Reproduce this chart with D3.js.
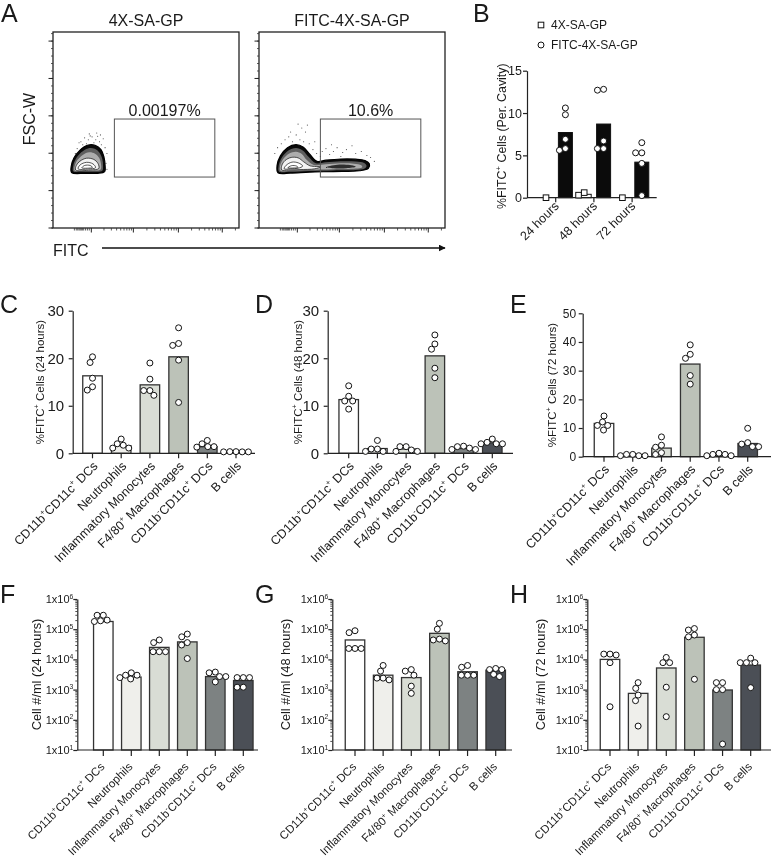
<!DOCTYPE html>
<html><head><meta charset="utf-8">
<script src="https://cdn.jsdelivr.net/npm/d3@7"></script>
<style>
body{margin:0;background:#fff}
svg{display:block;will-change:transform}
text{font-family:"Liberation Sans",Arial,Helvetica,sans-serif;fill:#1a1a1a}
</style>
</head><body>
<svg id="fig" width="771" height="860"></svg>
<script>
// ---------------- DATA ----------------
const flowTitles = ["4X-SA-GP", "FITC-4X-SA-GP"];
const gateLabels = ["0.00197%", "10.6%"];
const gateBox = [33, 87, 26, 55.6];            // FITC lo, FITC hi, FSC-W lo, FSC-W hi (% of scale)
const fscMax = 262144;
const fscMajor = [0, 50000, 100000, 150000, 200000, 250000];
const fscMinor = d3.range(0, 262144, 10000);
const fitcDecades = [20.6, 43.2, 67.4, 91.0];  // % of FITC scale
const fitcLinTicks = [11.5, 12.5, 13.3, 14, 14.6, 15.2, 15.8, 16.5, 17.5, 18.5, 19.5];

// contour levels (FITC %, FSC-W %)
const leftContours = [
  [[10,28.3],[9.8,31.5],[11.3,35.8],[14.4,39.6],[18.5,42.2],[22.6,42.2],[25.8,40],[27.4,36.2],[28,32],[27.8,28.8],[24,27.9],[17,27.9]],
  [[10.9,29],[10.9,31.8],[12.4,35.4],[15.2,38.6],[18.8,40.6],[22.4,40.4],[25,38.4],[26.5,35.2],[26.9,31.8],[26.5,29.2],[22,28.7],[16,28.7]],
  [[11.6,29.3],[11.8,32],[13.3,34.9],[16,37.3],[19.5,38.6],[22.6,37.9],[24.8,35.8],[25.8,32.6],[25.6,29.8],[21,29.2],[15,29.2]],
  [[12.2,29.6],[12.6,32],[14.5,34.1],[18,35.6],[21.9,35],[24.2,32.9],[24.6,30.4],[20,29.6]],
  [[13.5,30.2],[14.6,32.2],[18,33.5],[21.5,32.7],[22.9,30.8],[19,30.1]],
  [[15.5,30.7],[17,31.9],[20,31.9],[21.2,30.9],[18.5,30.5]]
];
const rightContours = [
  [[10.2,28.2],[9.7,31.8],[11.5,36.8],[15.3,41],[19.9,42.5],[23.9,41.2],[27.4,37.5],[31.2,34],[36,34.6],[44,35.2],[52,35.1],[57,34.4],[59.3,32.8],[58.8,30.4],[54,29.2],[40,28.8],[27,28.5],[17,28]],
  [[10.8,28.8],[10.6,31.8],[12.3,36],[15.8,39.6],[19.9,40.8],[23.5,39.6],[26.6,36.3],[30.6,33],[36,33.5],[44,34],[52,33.9],[56.5,33.2],[57.8,31.8],[56.8,30.3],[52,29.6],[40,29.4],[27,29.1],[17,28.7]],
  [[11.5,29.2],[11.4,31.9],[13,35.2],[16.3,38],[19.9,38.9],[23,37.8],[25.6,34.8],[29.5,32.2],[36,32.5],[44,33],[51,32.8],[55,32],[55.5,31],[52,30.3],[40,30],[27,29.7],[17,29.3]],
  [[12.2,29.6],[12.3,32],[14,34.4],[17.3,36],[21,35.8],[24,33.8],[27.5,31.7],[33,31.2],[30,30.2],[22,29.8],[16,29.6]],
  [[13.5,30.2],[14.6,32],[17.7,33.6],[21.2,33.2],[23.5,31.6],[21,30.5],[17,30.2]],
  [[15.5,30.7],[17.5,31.8],[20.2,31.6],[21,30.9],[18,30.6]],
  [[36,31],[42,32.3],[49,32.1],[52,31.2],[47,30.5],[40,30.5]]
];
const leftDots = [[15,44],[17,46],[19,45],[21,46.5],[23,45],[25,44],[26,42.5],[18,43],[22,43.5],[27,45.5],[20,47],[24,46.8],[16,42.5],[28,41],[13,40.5],[14,43.5],[25.5,47.5],[29,38],[12,38],[28.5,33],[29,30],[19.5,48],[23.5,48.5]];
const rightDots = [[14,45],[16,46.5],[12,43],[18,44],[20,47.5],[22,45],[24,44],[25,49],[23,51],[26,52.5],[21,53],[10,41],[27,43],[29,40],[31,38],[34,39],[36,40.5],[38,37.5],[40,39],[42,41],[45,38.5],[47,40],[50,42],[52,38],[55,39],[58,37],[60,36],[62,34],[44,36.5],[33,36.5],[39,42.5],[30,44],[8.5,38],[17,49]];

const cats = ["CD11b^+CD11c^+ DCs", "Neutrophils", "Inflammatory Monocytes", "F4/80^+ Macrophages", "CD11b^-CD11c^+ DCs", "B cells"];
const barColors = ["#ffffff", "#efefeb", "#d9ddd5", "#bcc2b8", "#7d8282", "#4b4f56"];

// Panel B
const times = ["24 hours", "48 hours", "72 hours"];
const groupsB = ["4X-SA-GP", "FITC-4X-SA-GP"];
const ctrlBars = [0, 0.4, 0];
const fitcBars = [7.7, 8.7, 4.2];
const ctrlPts = [[0], [0.6, 0.3], [0]];
const fitcPts = [[10.6, 9.8, 6.9, 5.6, 5.8], [12.8, 12.7, 6.7, 5.8, 5.8], [6.5, 5.3, 5.3, 4.05, 0.25]];
const ticksB = [0, 5, 10, 15];

// Panels C-E: % FITC+ cells
const pctBars24 = [16.3, 1.6, 14.4, 20.3, 1.4, 0.35];
const pctPts24 = [[20.3,19.1,15.8,13.3,14.0],[3.0,2.0,1.1,1.1,1.7],[19.0,15.6,12.2,13.2,13.2],[26.4,22.7,23.1,19.6,10.7],[2.7,1.3,2.0,1.4,1.4],[0.3,0.35,0.3,0.35,0.3]];
const pctBars48 = [11.3, 1.0, 0.9, 20.5, 1.0, 2.2];
const pctPts48 = [[14.2,12.0,11.0,11.0,9.3],[2.7,0.4,0.4,0.9,0.9],[1.4,1.4,0.4,0.4,0.7],[24.9,21.9,23.0,17.9,15.9],[1.4,1.5,1.1,0.8,0.8],[3.0,2.0,2.3,2.0,2.0]];
const pctBars72 = [11.6, 0.5, 3.0, 32.3, 0.6, 4.6];
const pctPts72 = [[14.2,12.1,9.3,10.9,10.9],[0.35,0.8,0.8,0.35,0.35],[6.9,3.3,4.0,1.4,0.8],[39.0,34.3,35.7,28.3,25.3],[0.8,1.2,0.8,0.35,0.35],[9.9,4.9,3.5,3.5,4.4]];
const ticks30 = [0, 10, 20, 30];
const ticks50 = [0, 10, 20, 30, 40, 50];

// Panels F-H: cell numbers
const cntBars24 = [1.8e5, 2.6e3, 2.5e4, 3.8e4, 2.7e3, 2.0e3];
const cntPts24 = [[2.9e5,2.9e5,2.0e5,1.9e5,1.8e5],[3.6e3,3.0e3,3.0e3,2.5e3,2.25e3],[4.4e4,3.6e4,1.8e4,1.8e4,1.8e4],[6.9e4,5.6e4,3.6e4,3.0e4,1.07e4],[3.8e3,3.6e3,1.8e3,2.7e3,2.7e3],[2.5e3,2.5e3,2.5e3,1.2e3,1.2e3]];
const cntBars48 = [4.4e4, 3.0e3, 2.5e3, 7.3e4, 3.9e3, 4.4e3];
const cntPts48 = [[8.9e4,7.7e4,2.3e4,2.3e4,2.3e4],[6.3e3,4.1e3,2.1e3,2.4e3,2.4e3],[4.1e3,4.6e3,3.0e3,1.3e3,7.5e2],[1.56e5,1.0e5,4.1e4,4.7e4,4.4e4],[6.3e3,5.5e3,3.0e3,3.0e3,3.0e3],[4.6e3,5.0e3,4.6e3,2.7e3,3.2e3]];
const cntBars72 = [1.0e4, 7.5e2, 5.2e3, 5.4e4, 9.7e2, 6.5e3];
const cntPts72 = [[1.5e4,1.5e4,1.4e4,7.8e3,2.7e2],[1.7e3,1.1e3,6.6e2,4.3e2,62],[1.16e4,7.8e3,7.8e3,1.2e3,1.27e2],[9.4e4,1.05e5,6.4e4,5.6e4,2.2e3],[1.7e3,1.7e3,1.0e3,1.0e3,15.8],[1.1e4,7.8e3,7.8e3,7.8e3,1.16e3]];
const logTicks = [1e1, 1e2, 1e3, 1e4, 1e5, 1e6];

// ---------------- HELPERS ----------------
const svg = d3.select("#fig");
const AX = "#222";
const R = 3;

function rich(textSel, str, size) {
  const parts = str.split(/\^(.)/);
  let shifted = false;
  parts.forEach((p, k) => {
    if (k % 2 === 1) {
      textSel.append("tspan").attr("font-size", size * 0.62).attr("dy", -size * 0.4).text(p);
      shifted = true;
    } else if (p.length) {
      const t = textSel.append("tspan").text(p);
      if (shifted) { t.attr("dy", size * 0.4); shifted = false; }
    }
  });
}

function swarm(vals, yScale, r) {
  const pts = vals.map((v, i) => ({ v, i, y: yScale(v) })).sort((a, b) => a.y - b.y);
  const placed = [];
  const s = 2 * r + 0.2;
  for (const p of pts) {
    const iv = [];
    for (const q of placed) {
      const dy = Math.abs(q.y - p.y);
      if (dy < s) { const dx = Math.sqrt(s * s - dy * dy); iv.push([q.x - dx, q.x + dx]); }
    }
    const cands = [0, ...iv.flat()].sort((a, b) => Math.abs(a) - Math.abs(b) || a - b);
    p.x = cands.find(c => iv.every(([a, b]) => c <= a + 1e-6 || c >= b - 1e-6));
    placed.push(p);
  }
  return placed;
}

function letter(t, x, y) {
  svg.append("text").attr("x", x).attr("y", y).attr("font-size", 25).text(t);
}

function yLabel(str, x, yc, size) {
  const t = svg.append("text").attr("transform", `translate(${x},${yc}) rotate(-90)`)
    .attr("text-anchor", "middle").attr("dy", "0.35em").attr("font-size", size);
  rich(t, str, size);
}

// ---------------- PANEL A (flow) ----------------
letter("A", 1, 22);
const flowBoxes = [[53, 32, 186, 196], [259, 32, 186, 196]];
const contourSets = [leftContours, rightContours];
const dotSets = [leftDots, rightDots];
const levelFill = ["#0a0a0a", "#5e5e5e", "#adadad", "#f3f3f3", "#ffffff", "#ffffff", "#2e2e2e"];
const levelStroke = ["#000", "none", "none", "#111", "#111", "#111", "none"];
const levelSW = [1.2, 0, 0, 0.7, 0.7, 0.7, 0];

flowBoxes.forEach(([bx, by, bw, bh], k) => {
  const g = svg.append("g");
  const fx = d3.scaleLinear().domain([0, 100]).range([bx, bx + bw]);
  const fy = d3.scaleLinear().domain([0, 100]).range([by + bh, by]);
  svg.append("text").attr("x", bx + bw / 2).attr("y", 26).attr("text-anchor", "middle")
    .attr("font-size", 16).text(flowTitles[k]);
  g.selectAll("circle.dot").data(dotSets[k]).join("circle")
    .attr("cx", d => fx(d[0])).attr("cy", d => fy(d[1])).attr("r", 0.55).attr("fill", "#444");
  const line = d3.line().x(d => fx(d[0])).y(d => fy(d[1])).curve(d3.curveCatmullRomClosed.alpha(0.5));
  g.selectAll("path.lvl").data(contourSets[k]).join("path")
    .attr("d", line)
    .attr("fill", (d, i) => levelFill[i]).attr("stroke", (d, i) => levelStroke[i])
    .attr("stroke-width", (d, i) => levelSW[i]);
  g.append("rect").attr("x", fx(gateBox[0])).attr("y", fy(gateBox[3]))
    .attr("width", fx(gateBox[1]) - fx(gateBox[0])).attr("height", fy(gateBox[2]) - fy(gateBox[3]))
    .attr("fill", "none").attr("stroke", "#555").attr("stroke-width", 1);
  svg.append("text").attr("x", fx((gateBox[0] + gateBox[1]) / 2)).attr("y", fy(gateBox[3]) - 3)
    .attr("text-anchor", "middle").attr("font-size", 16).text(gateLabels[k]);
  g.append("rect").attr("x", bx).attr("y", by).attr("width", bw).attr("height", bh)
    .attr("fill", "none").attr("stroke", "#222").attr("stroke-width", 1.3);
  g.selectAll("line.ymin").data(fscMinor).join("line")
    .attr("x1", bx - 2).attr("x2", bx).attr("y1", d => fy(d / fscMax * 100)).attr("y2", d => fy(d / fscMax * 100))
    .attr("stroke", "#333").attr("stroke-width", 0.8);
  g.selectAll("line.ymaj").data(fscMajor).join("line")
    .attr("x1", bx - 4.5).attr("x2", bx).attr("y1", d => fy(d / fscMax * 100)).attr("y2", d => fy(d / fscMax * 100))
    .attr("stroke", "#222").attr("stroke-width", 1);
  const minorX = [];
  fitcDecades.forEach((d0, i) => {
    const step = i < fitcDecades.length - 1 ? fitcDecades[i + 1] - d0 : 23.5;
    for (let m = 2; m <= 9; m++) { const v = d0 + Math.log10(m) * step; if (v < 99.5) minorX.push(v); }
  });
  g.selectAll("line.xmin").data(minorX.concat(fitcLinTicks)).join("line")
    .attr("x1", d => fx(d)).attr("x2", d => fx(d)).attr("y1", by + bh).attr("y2", by + bh + 2.5)
    .attr("stroke", "#333").attr("stroke-width", 0.8);
  g.selectAll("line.xmaj").data(fitcDecades).join("line")
    .attr("x1", d => fx(d)).attr("x2", d => fx(d)).attr("y1", by + bh).attr("y2", by + bh + 4.5)
    .attr("stroke", "#222").attr("stroke-width", 1);
});
yLabel("FSC-W", 29, 119, 16);
svg.append("text").attr("x", 53).attr("y", 255.5).attr("font-size", 16).text("FITC");
svg.append("defs").append("marker").attr("id", "arr").attr("viewBox", "0 0 10 10")
  .attr("refX", 9).attr("refY", 5).attr("markerWidth", 7).attr("markerHeight", 7)
  .attr("orient", "auto").attr("markerUnits", "userSpaceOnUse")
  .append("path").attr("d", "M0,0 L10,5 L0,10 z").attr("fill", "#111");
svg.append("line").attr("x1", 102).attr("x2", 445).attr("y1", 248).attr("y2", 248)
  .attr("stroke", "#111").attr("stroke-width", 1.5).attr("marker-end", "url(#arr)");

// ---------------- PANEL B ----------------
letter("B", 473, 22);
(function () {
  const o = { x0: 527, xEnd: 656.7, yt: 70.7, yb: 197.7 };
  const g = svg.append("g");
  const xg = d3.scalePoint().domain(times).range([555.7, 632.1]);
  const xs = d3.scalePoint().domain(groupsB).range([-9.7, 9.7]);
  const y = d3.scaleLinear().domain([0, 15]).range([o.yb, o.yt]);
  const bw = 14;
  const barData = [];
  times.forEach((t, i) => {
    barData.push({ t, s: groupsB[0], v: ctrlBars[i], pts: ctrlPts[i] });
    barData.push({ t, s: groupsB[1], v: fitcBars[i], pts: fitcPts[i] });
  });
  g.selectAll("rect.bar").data(barData).join("rect")
    .attr("x", d => xg(d.t) + xs(d.s) - bw / 2).attr("width", bw)
    .attr("y", d => y(d.v)).attr("height", d => y(0) - y(d.v))
    .attr("fill", d => d.s === groupsB[0] ? "#fff" : "#0b0b0b")
    .attr("stroke", "#111").attr("stroke-width", 1);
  const ya = g.append("g").attr("transform", `translate(${o.x0},0)`)
    .call(d3.axisLeft(y).tickValues(ticksB).tickSize(4).tickSizeOuter(0));
  ya.select(".domain").attr("stroke", AX).attr("stroke-width", 1.2);
  ya.selectAll(".tick line").attr("stroke", AX).attr("stroke-width", 1.2);
  ya.selectAll(".tick text").attr("font-size", 12.5).attr("font-family", null).attr("fill", "#1a1a1a").attr("x", -5);
  g.append("line").attr("x1", o.x0).attr("x2", o.xEnd).attr("y1", y(0)).attr("y2", y(0))
    .attr("stroke", AX).attr("stroke-width", 1.2);
  g.selectAll("line.xt").data(times).join("line")
    .attr("x1", d => xg(d)).attr("x2", d => xg(d)).attr("y1", y(0)).attr("y2", y(0) + 4.5)
    .attr("stroke", AX).attr("stroke-width", 1.2);
  g.selectAll("text.xl").data(times).join("text")
    .attr("transform", d => `translate(${xg(d) + 4},${y(0) + 9}) rotate(-45)`)
    .attr("text-anchor", "end").attr("font-size", 12.5).text(d => d);
  barData.forEach(d => {
    const cx = xg(d.t) + xs(d.s);
    const sw = swarm(d.pts, y, R);
    if (d.s === groupsB[0]) {
      g.selectAll(null).data(sw).join("rect")
        .attr("x", p => cx + p.x - 2.8).attr("y", p => p.y - 2.8).attr("width", 5.6).attr("height", 5.6)
        .attr("fill", "#fff").attr("stroke", "#111").attr("stroke-width", 1);
    } else {
      g.selectAll(null).data(sw).join("circle")
        .attr("cx", p => cx + p.x).attr("cy", p => p.y).attr("r", R)
        .attr("fill", "#fff").attr("stroke", "#111").attr("stroke-width", 1);
    }
  });
  yLabel("%FITC^+ Cells (Per. Cavity)", 502, (o.yt + o.yb) / 2 + 2, 12.4);
  const lg = svg.append("g");
  lg.append("rect").attr("x", 541 - 2.8).attr("y", 25 - 2.8).attr("width", 5.6).attr("height", 5.6)
    .attr("fill", "#fff").attr("stroke", "#111").attr("stroke-width", 1);
  lg.append("circle").attr("cx", 541).attr("cy", 45).attr("r", R)
    .attr("fill", "#fff").attr("stroke", "#111").attr("stroke-width", 1);
  lg.selectAll("text").data(groupsB).join("text").attr("x", 551).attr("y", (d, i) => 29.2 + i * 20)
    .attr("font-size", 12).text(d => d);
})();

// ---------------- BAR PANELS C-H ----------------
function barPanel(o) {
  const g = svg.append("g");
  const x = d3.scalePoint().domain(d3.range(cats.length)).range([o.c0, o.c1]);
  const y = o.log ? d3.scaleLog().domain([1e1, 1e6]).range([o.yb, o.yt])
                  : d3.scaleLinear().domain([0, o.max]).range([o.yb, o.yt]);
  const base = o.log ? 1e1 : 0;
  const bw = 19.5;
  g.selectAll("rect.bar").data(o.bars).join("rect")
    .attr("x", (d, i) => x(i) - bw / 2).attr("width", bw)
    .attr("y", d => y(d)).attr("height", d => y(base) - y(d))
    .attr("fill", (d, i) => barColors[i]).attr("stroke", "#333").attr("stroke-width", 1.3);
  if (o.log) {
    const minor = [];
    logTicks.slice(0, -1).forEach(t => { for (let m = 2; m <= 9; m++) minor.push(t * m); });
    const ym = g.append("g").attr("transform", `translate(${o.x0},0)`)
      .call(d3.axisLeft(y).tickValues(minor).tickSize(2).tickSizeOuter(0).tickFormat(""));
    ym.select(".domain").remove();
    ym.selectAll(".tick line").attr("stroke", AX).attr("stroke-width", 0.8);
  }
  const ya = g.append("g").attr("transform", `translate(${o.x0},0)`)
    .call(d3.axisLeft(y).tickValues(o.ticks).tickSize(4).tickSizeOuter(0).tickFormat(""));
  ya.select(".domain").attr("stroke", AX).attr("stroke-width", 1.2);
  ya.selectAll(".tick line").attr("stroke", AX).attr("stroke-width", 1.2);
  const tl = g.selectAll("text.tl").data(o.ticks).join("text")
    .attr("x", o.x0 - o.tickGap).attr("y", d => y(d)).attr("dy", "0.36em")
    .attr("text-anchor", "end").attr("font-size", o.tickFont);
  tl.each(function (d) {
    const s = o.log ? "1x10^" + Math.round(Math.log10(d)) : String(d);
    rich(d3.select(this), s, o.tickFont);
  });
  g.append("line").attr("x1", o.x0).attr("x2", o.xEnd).attr("y1", y(base)).attr("y2", y(base))
    .attr("stroke", AX).attr("stroke-width", 1.2);
  g.selectAll("line.xt").data(cats).join("line")
    .attr("x1", (d, i) => x(i)).attr("x2", (d, i) => x(i)).attr("y1", y(base)).attr("y2", y(base) + o.xtick)
    .attr("stroke", AX).attr("stroke-width", 1.2);
  const xl = g.selectAll("text.xl").data(cats).join("text")
    .attr("transform", (d, i) => `translate(${x(i) + o.cat[0]},${y(base) + o.cat[1]}) rotate(-45)`)
    .attr("text-anchor", "end").attr("font-size", o.catFont);
  xl.each(function (d) { rich(d3.select(this), d, o.catFont); });
  o.pts.forEach((vals, i) => {
    const sw = swarm(vals, y, R);
    g.selectAll(null).data(sw).join("circle")
      .attr("cx", p => x(i) + p.x).attr("cy", p => p.y).attr("r", R)
      .attr("fill", "#fff").attr("stroke", "#111").attr("stroke-width", 1);
  });
  yLabel(o.ylabel, o.labelX, (o.yt + o.yb) / 2, o.labelSize);
  letter(o.letter, o.lx, o.ly);
}

barPanel({ letter: "C", lx: 0, ly: 313, x0: 72.7, xEnd: 255, yt: 310.7, yb: 453.3, c0: 92.5, c1: 236,
  max: 30, ticks: ticks30, bars: pctBars24, pts: pctPts24, ylabel: "%FITC^+ Cells (24 hours)",
  labelX: 39.5, labelSize: 11.5, tickFont: 15, tickGap: 8.5, cat: [6, 13.5], catFont: 12.5, xtick: 5 });
barPanel({ letter: "D", lx: 255, ly: 313, x0: 327.7, xEnd: 513, yt: 310.7, yb: 453.3, c0: 348.7, c1: 492.3,
  max: 30, ticks: ticks30, bars: pctBars48, pts: pctPts48, ylabel: "%FITC^+ Cells (48 hours)",
  labelX: 298, labelSize: 11.5, tickFont: 15, tickGap: 8.5, cat: [6, 13.5], catFont: 12.5, xtick: 5 });
barPanel({ letter: "E", lx: 510, ly: 313, x0: 582.7, xEnd: 771, yt: 313.3, yb: 456.7, c0: 604, c1: 747.7,
  max: 50, ticks: ticks50, bars: pctBars72, pts: pctPts72, ylabel: "%FITC^+ Cells (72 hours)",
  labelX: 552, labelSize: 11.5, tickFont: 12, tickGap: 6.5, cat: [6, 13.5], catFont: 12.5, xtick: 5 });
barPanel({ letter: "F", lx: 0, ly: 603, x0: 77.3, xEnd: 258, yt: 599, yb: 750, c0: 103.3, c1: 243.3,
  log: true, ticks: logTicks, bars: cntBars24, pts: cntPts24, ylabel: "Cell #/ml (24 hours)",
  labelX: 37, labelSize: 12.8, tickFont: 11, tickGap: 4, cat: [2, 17.5], catFont: 11.5, xtick: 6 });
barPanel({ letter: "G", lx: 255, ly: 603, x0: 332.3, xEnd: 512, yt: 599, yb: 750, c0: 355, c1: 495.7,
  log: true, ticks: logTicks, bars: cntBars48, pts: cntPts48, ylabel: "Cell #/ml (48 hours)",
  labelX: 286, labelSize: 12.8, tickFont: 11, tickGap: 4, cat: [2, 17.5], catFont: 11.5, xtick: 6 });
barPanel({ letter: "H", lx: 510, ly: 603, x0: 587.3, xEnd: 771, yt: 599, yb: 750, c0: 610, c1: 750.7,
  log: true, ticks: logTicks, bars: cntBars72, pts: cntPts72, ylabel: "Cell #/ml (72 hours)",
  labelX: 541, labelSize: 12.8, tickFont: 11, tickGap: 4, cat: [2, 17.5], catFont: 11.5, xtick: 6 });
</script>
</body></html>
